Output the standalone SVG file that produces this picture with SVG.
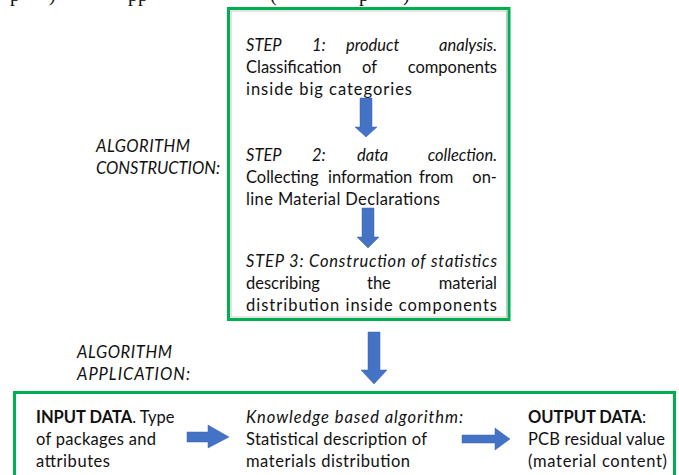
<svg xmlns="http://www.w3.org/2000/svg" width="679" height="475" viewBox="0 0 679 475">
<style>
.t{font-family:Lato,"Open Sans","Liberation Sans",sans-serif;font-size:16.5px;fill:#111}
.i{font-style:italic}
.b{font-weight:bold}
.e{text-anchor:end}
.frame{fill:#fff;stroke:#00b050;stroke-width:3}
.inner{fill:none;stroke:#c8c8c8;stroke-width:1}
.arr{fill:#4472c4;stroke:#3a64b0;stroke-width:0.5}
.top{font-family:"Liberation Serif",serif;font-size:20px;fill:#111}
</style>
<rect width="679" height="475" fill="#fff"/>
<g id="cut-line">
<text class="top" x="10" y="1">p</text>
<text class="top" x="49" y="1">)</text>
<text class="top" x="128" y="1">pp</text>
<text class="top" x="270" y="1">(</text>
<text class="top" x="359" y="1">p</text>
<text class="top" x="403" y="1">)</text>
</g>
<g id="construction-box">
<rect class="frame" x="228.5" y="8.5" width="280.5" height="311"/>
<rect class="inner" x="231" y="11" width="275.5" height="306"/>
</g>
<g id="step1">
<text class="t i" x="246" y="51">STEP</text>
<text class="t i" x="312" y="51">1:</text>
<text class="t i" x="346" y="51">product</text>
<text class="t i e" x="497" y="51">analysis.</text>
<text class="t" x="246" y="73">Classification</text>
<text class="t" x="362" y="73">of</text>
<text class="t e" x="497" y="73">components</text>
<text class="t" x="246" y="95" textLength="166">inside big categories</text>
</g>
<g id="step2">
<text class="t i" x="246" y="161">STEP</text>
<text class="t i" x="312" y="161">2:</text>
<text class="t i" x="357" y="161">data</text>
<text class="t i e" x="497" y="161">collection.</text>
<text class="t" x="246" y="183">Collecting</text>
<text class="t" x="328" y="183">information</text>
<text class="t" x="419" y="183">from</text>
<text class="t e" x="497" y="183">on-</text>
<text class="t" x="246" y="205" textLength="194">line Material Declarations</text>
</g>
<g id="step3">
<text class="t i" x="246" y="267" textLength="251">STEP 3: Construction of statistics</text>
<text class="t" x="246" y="289">describing</text>
<text class="t" x="367" y="289">the</text>
<text class="t e" x="497" y="289">material</text>
<text class="t" x="246" y="311" textLength="251">distribution inside components</text>
</g>
<g id="label-construction">
<text class="t i" x="96" y="152" textLength="94">ALGORITHM</text>
<text class="t i" x="96" y="174" textLength="124">CONSTRUCTION:</text>
</g>
<g id="label-application">
<text class="t i" x="77" y="358" textLength="95">ALGORITHM</text>
<text class="t i" x="77" y="380" textLength="113">APPLICATION:</text>
</g>
<g id="application-box">
<rect class="frame" x="14.5" y="392.5" width="660" height="100"/>
</g>
<g id="input">
<text class="t" x="36" y="423"><tspan class="b">INPUT DATA</tspan>. Type</text>
<text class="t" x="36" y="445" textLength="120">of packages and</text>
<text class="t" x="36" y="467" textLength="74">attributes</text>
</g>
<g id="algorithm">
<text class="t i" x="246" y="423" textLength="217">Knowledge based algorithm:</text>
<text class="t" x="246" y="445" textLength="181">Statistical description of</text>
<text class="t" x="246" y="467" textLength="164">materials distribution</text>
</g>
<g id="output">
<text class="t" x="528" y="423"><tspan class="b">OUTPUT DATA</tspan>:</text>
<text class="t" x="528" y="445" textLength="137">PCB residual value</text>
<text class="t" x="528" y="467" textLength="139">(material content)</text>
</g>
<g id="connectors">
<path class="arr" d="M360,98 H372 V127 H377 L366,137 L355,127 H360 Z"/>
<path class="arr" d="M362,208 H374 V237 H379 L368,248 L357,237 H362 Z"/>
<path class="arr" d="M368,332 H380 V370 H387 L374,384 L361,370 H368 Z"/>
<path class="arr" d="M187,432 H208 V425 L229,437 L208,448 V442 H187 Z"/>
<path class="arr" d="M462,435 H495 V428 L510,439 L495,450 V443 H462 Z"/>
</g>
</svg>
